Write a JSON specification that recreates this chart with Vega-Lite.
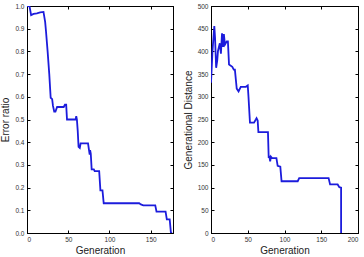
{
  "$schema": "https://vega.github.io/schema/vega-lite/v6.json",
  "padding": {"left": 0, "top": 2, "right": 2, "bottom": 0},
  "background": "white",
  "config": {
    "font": "Liberation Sans",
    "view": {"stroke": "black", "strokeWidth": 1},
    "axis": {
      "domainColor": "black",
      "tickColor": "black",
      "tickSize": -3,
      "labelPadding": 6,
      "labelFontSize": 6.5,
      "labelColor": "#333",
      "titleFontSize": 10,
      "titleFontWeight": "normal",
      "titleColor": "#222",
      "grid": false
    },
    "line": {"color": "#1c1cdc", "strokeWidth": 1.8}
  },
  "datasets": {
    "errorRatio": [
      {"generation": 0, "value": 1.0},
      {"generation": 3, "value": 1.0},
      {"generation": 5, "value": 0.96},
      {"generation": 8, "value": 0.965},
      {"generation": 12, "value": 0.968},
      {"generation": 16, "value": 0.972},
      {"generation": 20, "value": 0.974},
      {"generation": 22, "value": 0.93},
      {"generation": 23, "value": 0.89},
      {"generation": 25, "value": 0.8},
      {"generation": 27, "value": 0.7},
      {"generation": 28.7, "value": 0.596},
      {"generation": 30.5, "value": 0.59},
      {"generation": 31.5, "value": 0.56},
      {"generation": 33, "value": 0.535},
      {"generation": 34.5, "value": 0.535},
      {"generation": 36.5, "value": 0.555},
      {"generation": 44.5, "value": 0.555},
      {"generation": 46, "value": 0.565},
      {"generation": 47.5, "value": 0.565},
      {"generation": 48.5, "value": 0.5},
      {"generation": 59, "value": 0.5},
      {"generation": 59.7, "value": 0.515},
      {"generation": 60.5, "value": 0.5},
      {"generation": 61.5, "value": 0.45},
      {"generation": 62.5, "value": 0.38},
      {"generation": 64, "value": 0.375},
      {"generation": 65, "value": 0.395},
      {"generation": 74, "value": 0.395},
      {"generation": 75, "value": 0.37},
      {"generation": 76, "value": 0.345},
      {"generation": 76.5, "value": 0.365},
      {"generation": 77.3, "value": 0.35},
      {"generation": 78.4, "value": 0.28},
      {"generation": 81, "value": 0.28},
      {"generation": 82, "value": 0.273},
      {"generation": 87.5, "value": 0.273},
      {"generation": 89, "value": 0.188},
      {"generation": 91.5, "value": 0.188},
      {"generation": 93, "value": 0.131},
      {"generation": 136, "value": 0.131},
      {"generation": 138, "value": 0.126},
      {"generation": 141, "value": 0.122},
      {"generation": 155.5, "value": 0.122},
      {"generation": 157, "value": 0.094},
      {"generation": 168, "value": 0.094},
      {"generation": 169.5, "value": 0.06},
      {"generation": 173, "value": 0.06},
      {"generation": 174.5, "value": 0.0},
      {"generation": 176, "value": 0.0}
    ],
    "generationalDistance": [
      {"generation": 0, "value": 331},
      {"generation": 2, "value": 400},
      {"generation": 4.5, "value": 456},
      {"generation": 5.5, "value": 430},
      {"generation": 7, "value": 364},
      {"generation": 8.5, "value": 380},
      {"generation": 9.5, "value": 401},
      {"generation": 12, "value": 418},
      {"generation": 13.5, "value": 395},
      {"generation": 15, "value": 440},
      {"generation": 16.5, "value": 410},
      {"generation": 17.5, "value": 438},
      {"generation": 19, "value": 415},
      {"generation": 21.5, "value": 422},
      {"generation": 23, "value": 422},
      {"generation": 24.5, "value": 371},
      {"generation": 29, "value": 366},
      {"generation": 31, "value": 360},
      {"generation": 32.5, "value": 360},
      {"generation": 35, "value": 318},
      {"generation": 37.5, "value": 312},
      {"generation": 40.5, "value": 322},
      {"generation": 47.5, "value": 322},
      {"generation": 50, "value": 325},
      {"generation": 51, "value": 300},
      {"generation": 53, "value": 243},
      {"generation": 58.5, "value": 243},
      {"generation": 61, "value": 250},
      {"generation": 62, "value": 253},
      {"generation": 63.5, "value": 248},
      {"generation": 64.5, "value": 222},
      {"generation": 77.5, "value": 222},
      {"generation": 78.5, "value": 165},
      {"generation": 79.3, "value": 170},
      {"generation": 80.5, "value": 158},
      {"generation": 81.5, "value": 168},
      {"generation": 83, "value": 165},
      {"generation": 89, "value": 165},
      {"generation": 90.7, "value": 148},
      {"generation": 94.3, "value": 146},
      {"generation": 96, "value": 114},
      {"generation": 118, "value": 114},
      {"generation": 120, "value": 121},
      {"generation": 160, "value": 121},
      {"generation": 162, "value": 107},
      {"generation": 172.3, "value": 107},
      {"generation": 174.6, "value": 101},
      {"generation": 177, "value": 100},
      {"generation": 177, "value": 0}
    ]
  },
  "hconcat": [
    {
      "width": 146,
      "height": 227,
      "data": {"name": "errorRatio"},
      "resolve": {"axis": {"x": "independent", "y": "independent"}},
      "layer": [
        {
          "mark": {"type": "line", "clip": true},
          "encoding": {
            "x": {"field": "generation", "type": "quantitative", "scale": {"domain": [0, 177], "nice": false},
                  "axis": {"title": "Generation", "values": [0, 50, 100, 150], "titlePadding": 3}},
            "y": {"field": "value", "type": "quantitative", "scale": {"domain": [0, 1], "nice": false},
                  "axis": {"title": "Error ratio", "values": [0, 0.1, 0.2, 0.3, 0.4, 0.5, 0.6, 0.7, 0.8, 0.9, 1], "titlePadding": 4}},
            "order": {"field": "generation", "type": "quantitative"}
          }
        },
        {
          "mark": {"type": "line", "opacity": 0},
          "encoding": {
            "x": {"field": "generation", "type": "quantitative", "scale": {"domain": [0, 177], "nice": false},
                  "axis": {"orient": "top", "title": null, "labels": false, "values": [0, 50, 100, 150]}},
            "y": {"field": "value", "type": "quantitative", "scale": {"domain": [0, 1], "nice": false},
                  "axis": {"orient": "right", "title": null, "labels": false, "values": [0, 0.1, 0.2, 0.3, 0.4, 0.5, 0.6, 0.7, 0.8, 0.9, 1]}}
          }
        }
      ]
    },
    {
      "width": 147,
      "height": 227,
      "data": {"name": "generationalDistance"},
      "resolve": {"axis": {"x": "independent", "y": "independent"}},
      "layer": [
        {
          "mark": {"type": "line", "clip": true},
          "encoding": {
            "x": {"field": "generation", "type": "quantitative", "scale": {"domain": [0, 200], "nice": false},
                  "axis": {"title": "Generation", "values": [0, 50, 100, 150, 200], "titlePadding": 3}},
            "y": {"field": "value", "type": "quantitative", "scale": {"domain": [0, 500], "nice": false},
                  "axis": {"title": "Generational Distance", "values": [0, 50, 100, 150, 200, 250, 300, 350, 400, 450, 500], "titlePadding": 4}},
            "order": {"field": "generation", "type": "quantitative"}
          }
        },
        {
          "mark": {"type": "line", "opacity": 0},
          "encoding": {
            "x": {"field": "generation", "type": "quantitative", "scale": {"domain": [0, 200], "nice": false},
                  "axis": {"orient": "top", "title": null, "labels": false, "values": [0, 50, 100, 150, 200]}},
            "y": {"field": "value", "type": "quantitative", "scale": {"domain": [0, 500], "nice": false},
                  "axis": {"orient": "right", "title": null, "labels": false, "values": [0, 50, 100, 150, 200, 250, 300, 350, 400, 450, 500]}}
          }
        }
      ]
    }
  ],
  "spacing": 8
}
